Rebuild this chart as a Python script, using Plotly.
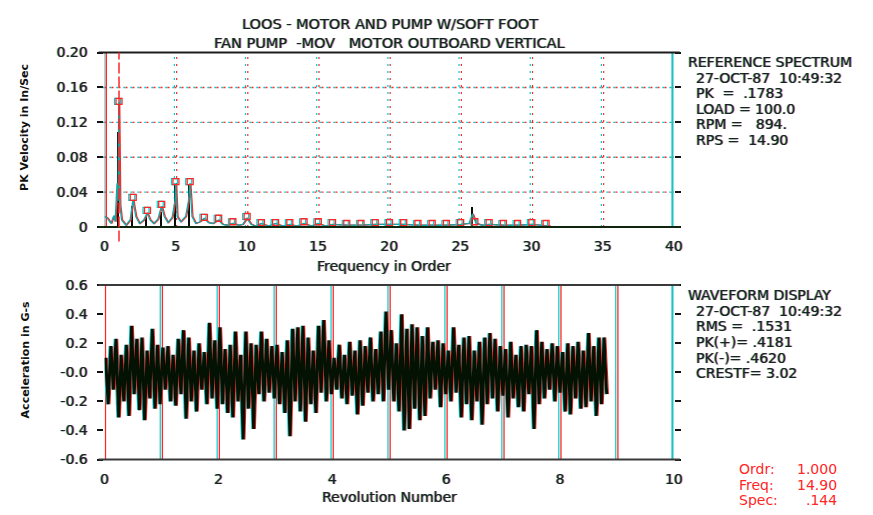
import numpy as np
import plotly.graph_objects as go

# ---------------- reference spectrum: PK velocity (in/sec) vs order ----------------
spec_order = [0.0, 0.2, 0.45, 0.65, 0.75, 0.88, 0.95, 1.0, 1.08, 1.2,
              1.5, 1.8, 2.0, 2.2, 2.45, 2.75, 3.0, 3.2, 3.45, 3.75,
              4.0, 4.2, 4.45, 4.75, 4.95, 5.0, 5.1, 5.35, 5.7, 5.9,
              6.0, 6.15, 6.4, 6.7, 7.0, 7.3, 7.6, 8.0, 8.3, 8.6,
              9.0, 9.4, 9.7, 10.0, 10.3, 10.6, 11.0, 11.5, 12.0, 12.5,
              13.0, 13.5, 14.0, 14.5, 15.0, 15.5, 16.0, 17.0, 18.0, 19.0,
              20.0, 21.0, 22.0, 23.0, 24.0, 25.0, 25.6, 25.85, 26.1, 26.5,
              27.0, 28.0, 29.0, 30.0, 31.0, 31.3]
spec_vel = [0.012, 0.010, 0.004, 0.013, 0.006, 0.050, 0.030, 0.144, 0.025, 0.008,
            0.002, 0.008, 0.031, 0.012, 0.004, 0.008, 0.016, 0.008, 0.004, 0.009,
            0.024, 0.012, 0.005, 0.011, 0.030, 0.050, 0.012, 0.006, 0.012, 0.030,
            0.050, 0.012, 0.004, 0.006, 0.010, 0.005, 0.004, 0.008, 0.003, 0.002,
            0.004, 0.002, 0.003, 0.010, 0.003, 0.001, 0.004, 0.001, 0.004, 0.001,
            0.003, 0.001, 0.004, 0.001, 0.004, 0.001, 0.003, 0.002, 0.002, 0.003,
            0.003, 0.003, 0.002, 0.002, 0.002, 0.003, 0.004, 0.015, 0.004, 0.002,
            0.003, 0.002, 0.002, 0.003, 0.002, 0.001]

# overlay spectrum peaks (drawn as dark stems)
peak_order = [1, 2, 3, 4, 5, 6, 25.85]
peak_vel = [0.109, 0.024, 0.012, 0.018, 0.050, 0.049, 0.023]

# cursor reading
cursor_order = 1.0
cursor_freq = 14.90
cursor_spec = 0.144

# harmonic markers, orders 1..31
harm_order = list(range(1, 32))
harm_vel = [cursor_spec, 0.034, 0.019, 0.026, 0.052, 0.052, 0.011, 0.010, 0.006, 0.012,
            0.005, 0.005, 0.005, 0.006, 0.006, 0.005, 0.004, 0.004, 0.005, 0.005,
            0.005, 0.004, 0.004, 0.004, 0.005, 0.006, 0.005, 0.004, 0.004, 0.005,
            0.004]

order_ticks = [0, 5, 10, 15, 20, 25, 30, 35, 40]
vel_ticks = [0, 0.04, 0.08, 0.12, 0.16, 0.20]
vel_ticktext = ["0", "0.04", "0.08", "0.12", "0.16", "0.20"]
grid_orders = [5, 10, 15, 20, 25, 30, 35]
grid_vel = [0.04, 0.08, 0.12, 0.16]

# ---------------- waveform: acceleration (G-s) vs revolution ----------------
# successive positive / negative excursions, about eleven per revolution
accel_peaks = [
    0.10, 0.18, 0.23, 0.12, 0.19, 0.32, 0.23, 0.24, 0.15, 0.30, 0.19,
    0.17, 0.18, 0.12, 0.23, 0.29, 0.24, 0.15, 0.20, 0.14, 0.34, 0.22,
    0.31, 0.16, 0.19, 0.28, 0.12, 0.28, 0.20, 0.19, 0.28, 0.23, 0.18,
    0.19, 0.14, 0.22, 0.30, 0.31, 0.32, 0.24, 0.15, 0.32, 0.36, 0.22,
    0.10, 0.19, 0.12, 0.21, 0.15, 0.22, 0.18, 0.24, 0.16, 0.28, 0.418,
    0.29, 0.20, 0.40, 0.30, 0.33, 0.31, 0.25, 0.31, 0.21, 0.22, 0.20,
    0.15, 0.31, 0.19, 0.24, 0.25, 0.15, 0.21, 0.24, 0.27, 0.23, 0.18,
    0.16, 0.21, 0.12, 0.18, 0.19, 0.18, 0.29, 0.21, 0.16, 0.20, 0.18,
    0.14, 0.20, 0.18, 0.21, 0.15, 0.27, 0.18, 0.24, 0.24]
accel_troughs = [
    -0.22, -0.12, -0.31, -0.20, -0.30, -0.15, -0.26, -0.33, -0.18, -0.25, -0.22,
    -0.12, -0.20, -0.23, -0.15, -0.32, -0.20, -0.27, -0.12, -0.22, -0.18, -0.25,
    -0.22, -0.28, -0.31, -0.20, -0.462, -0.25, -0.39, -0.15, -0.20, -0.14, -0.18,
    -0.22, -0.28, -0.44, -0.20, -0.27, -0.34, -0.22, -0.28, -0.14, -0.20, -0.15,
    -0.12, -0.18, -0.22, -0.16, -0.29, -0.23, -0.14, -0.20, -0.15, -0.20, -0.12,
    -0.20, -0.27, -0.40, -0.39, -0.25, -0.33, -0.30, -0.18, -0.12, -0.24, -0.15,
    -0.20, -0.14, -0.31, -0.22, -0.33, -0.20, -0.36, -0.22, -0.18, -0.27, -0.16,
    -0.31, -0.18, -0.24, -0.27, -0.15, -0.39, -0.22, -0.18, -0.12, -0.20, -0.14,
    -0.27, -0.29, -0.18, -0.25, -0.24, -0.20, -0.30, -0.22, -0.15]
wave_start_rev = 0.02
wave_end_rev = 8.82

rev_ticks = [0, 2, 4, 6, 8, 10]
rev_lines = [0, 1, 2, 3, 4, 5, 6, 7, 8, 9]
acc_ticks = [-0.6, -0.4, -0.2, 0.0, 0.2, 0.4, 0.6]
acc_ticktext = ["-0.6", "-0.4", "-0.2", "-0.0", "0.2", "0.4", "0.6"]

ref_info = ["REFERENCE SPECTRUM", "27-OCT-87\u00a0\u00a010:49:32", "PK\u00a0\u00a0=\u00a0\u00a0.1783",
            "LOAD = 100.0", "RPM =\u00a0\u00a0\u00a0894.", "RPS =\u00a0\u00a014.90"]
wave_info = ["WAVEFORM DISPLAY", "27-OCT-87\u00a0\u00a010:49:32", "RMS =\u00a0\u00a0.1531",
             "PK(+)= .4181", "PK(-)= .4620", "CRESTF= 3.02"]

# ---------------- page geometry ----------------
W, H = 873, 515
PLOT_L, PLOT_R = 102, 680
TOP_T, TOP_B = 46, 226
BOT_T, BOT_B = 286, 466
PLOT_W = PLOT_R - PLOT_L
ORD_PX = 40 / PLOT_W      # orders per pixel
REV_PX = 10 / PLOT_W      # revolutions per pixel


def px(x):
    return x / W


def py(y):
    return 1 - y / H


INK = "#142422"
CYAN = "#00cccc"
RED = "#ff2626"
FONT = "DejaVu Sans"
FRINGE = "-1px 0px 0px rgba(0,200,200,0.6), 1px 0px 0px rgba(255,40,40,0.6)"

fig = go.Figure()

# spectrum: red ghost then teal trace
so = np.array(spec_order)
fig.add_trace(go.Scatter(x=so + 1.0 * ORD_PX, y=spec_vel, mode="lines",
                         line=dict(color=RED, width=1.3), xaxis="x", yaxis="y",
                         hoverinfo="skip", showlegend=False))
fig.add_trace(go.Scatter(x=so, y=spec_vel, mode="lines",
                         line=dict(color="#12a6a6", width=1.3), xaxis="x", yaxis="y",
                         showlegend=False))
fig.add_trace(go.Bar(x=peak_order, y=peak_vel, width=0.11, marker=dict(color="#050f05", line=dict(width=0)),
                     xaxis="x", yaxis="y", showlegend=False))

# harmonic markers
ho = np.array(harm_order, dtype=float)
fig.add_trace(go.Scatter(x=ho - 1.2 * ORD_PX, y=harm_vel, mode="markers",
                         marker=dict(symbol="square-open", size=6, color=CYAN, line=dict(width=1.2)),
                         xaxis="x", yaxis="y", hoverinfo="skip", showlegend=False))
fig.add_trace(go.Scatter(x=ho + 0.3 * ORD_PX, y=harm_vel, mode="markers",
                         marker=dict(symbol="square-open", size=6, color=RED, line=dict(width=1.3)),
                         xaxis="x", yaxis="y", showlegend=False))

# waveform: alternate excursions in time order
wave = np.empty(len(accel_peaks) + len(accel_troughs))
wave[0::2] = accel_peaks
wave[1::2] = accel_troughs
rev = np.linspace(wave_start_rev, wave_end_rev, len(wave))
fig.add_trace(go.Scatter(x=rev - 1.8 * REV_PX, y=wave, mode="lines", line=dict(color=CYAN, width=1.1),
                         xaxis="x2", yaxis="y2", hoverinfo="skip", showlegend=False))
fig.add_trace(go.Scatter(x=rev + 1.8 * REV_PX, y=wave, mode="lines", line=dict(color=RED, width=1.1),
                         xaxis="x2", yaxis="y2", hoverinfo="skip", showlegend=False))
fig.add_trace(go.Scatter(x=rev, y=wave, mode="lines", line=dict(color="#031203", width=2.9),
                         xaxis="x2", yaxis="y2", showlegend=False))

# ---------------- frame, grid and cursor ----------------
shapes = []


def vline(xref, yref, x, y0, y1, color, width, dash="solid", layer="below"):
    shapes.append(dict(type="line", xref=xref, yref=yref, x0=x, x1=x, y0=y0, y1=y1,
                       line=dict(color=color, width=width, dash=dash), layer=layer))


def hline(xref, yref, y, x0, x1, color, width, dash="solid", layer="below"):
    shapes.append(dict(type="line", xref=xref, yref=yref, x0=x0, x1=x1, y0=y, y1=y,
                       line=dict(color=color, width=width, dash=dash), layer=layer))


DOT = "2px,5px"
for g in grid_orders:
    vline("x", "y domain", g - 1.3 * ORD_PX, 0, 1, CYAN, 1.2, DOT)
    vline("x", "y domain", g + 1.0 * ORD_PX, 0, 1, RED, 1.2, DOT)
for g in grid_vel:
    hline("x domain", "y", g, -2.2 / PLOT_W, 1, CYAN, 1.4, DOT)
    hline("x domain", "y", g, 0, 1, RED, 1.4, DOT)

# side rails of the spectrum pane
vline("x", "y domain", 0 - 0.3 * ORD_PX, 0, 1, CYAN, 1.5)
vline("x", "y domain", 0 + 1.8 * ORD_PX, 0, 1, RED, 1.5)
vline("x", "y domain", 40 - 1.5 * ORD_PX, 0, 1, CYAN, 2)
vline("x", "y domain", 40 + 1.0 * ORD_PX, 0, 1, RED, 2)
# top and base lines
ext = 6 / PLOT_W
hline("x domain", "y domain", 1, -ext, 1 + ext, "#1c1c1c", 2, layer="above")
hline("x domain", "y domain", 0, -ext, 1 + ext, "#0e260e", 2, layer="above")

# cursor
vline("x", "y domain", cursor_order + 0.3 * ORD_PX, -15 / (TOP_B - TOP_T), 1, RED, 1.5, "11px,3px", layer="above")

# revolution lines in the waveform pane
for r in rev_lines:
    vline("x2", "y2 domain", r - 1.2 * REV_PX, 0, 1, CYAN, 1.2)
    vline("x2", "y2 domain", r + 1.0 * REV_PX, 0, 1, RED, 1.3)
vline("x2", "y2 domain", 10 - 1.5 * REV_PX, 0, 1, CYAN, 2)
vline("x2", "y2 domain", 10 + 1.0 * REV_PX, 0, 1, RED, 2)
hline("x2 domain", "y2 domain", 1, -ext, 1 + ext, "#3a3a3a", 2, layer="above")
hline("x2 domain", "y2 domain", 0, -ext, 1 + ext, "#3a3a3a", 2, layer="above")

# ---------------- text ----------------
annotations = []


def label(x, y, text, xanchor="left", color=INK, size=14, weight="normal", angle=0, shadow=FRINGE):
    annotations.append(dict(x=px(x), y=py(y), xref="paper", yref="paper", text=text, showarrow=False,
                            xanchor=xanchor, yanchor="middle", textangle=angle,
                            font=dict(family=FONT, size=size, color=color, weight=weight, shadow=shadow)))


label(392, 17, "LOOS - MOTOR AND PUMP W/SOFT FOOT", "center", size=14.5)
label(391, 36, "FAN PUMP\u00a0\u00a0-MOV\u00a0\u00a0\u00a0MOTOR OUTBOARD VERTICAL", "center", size=14.5)
label(386, 266, "Frequency in Order", "center")
label(391, 505, "Revolution Number", "center")
label(20, 123, "PK Velocity in In/Sec", "center", color="#111111", size=11, weight="bold", angle=-90,
      shadow="none")
label(22, 363, "Acceleration in G-s", "center", color="#111111", size=11, weight="bold", angle=-90,
      shadow="none")

for i, t in enumerate(ref_info):
    label(692 if i == 0 else 700, 56 + 16 * i, t)
for i, t in enumerate(wave_info):
    label(692 if i == 0 else 700, 296 + 16.2 * i, t)

cursor_rows = [("Ordr:", f"{cursor_order:.3f}"),
               ("Freq:", f"{cursor_freq:.2f}"),
               ("Spec:", f"{cursor_spec:.3f}".lstrip("0"))]
for i, (k, v) in enumerate(cursor_rows):
    label(744, 476 + 16 * i, k, "left", color=RED, shadow="none")
    label(848, 476 + 16 * i, v, "right", color=RED, shadow="none")

tickfont = dict(family=FONT, size=14, color=INK, shadow=FRINGE)
common = dict(showgrid=False, zeroline=False, showline=False, tickfont=tickfont)

fig.update_layout(
    width=W, height=H, margin=dict(l=0, r=0, t=0, b=0),
    paper_bgcolor="white", plot_bgcolor="white",
    showlegend=False, bargap=0,
    xaxis=dict(domain=[px(PLOT_L), px(PLOT_R)], range=[0, 40], anchor="y",
               tickmode="array", tickvals=order_ticks, ticks="", ticklabelstandoff=9, **common),
    yaxis=dict(domain=[py(TOP_B), py(TOP_T)], range=[0, 0.2], anchor="x",
               tickmode="array", tickvals=vel_ticks, ticktext=vel_ticktext,
               ticks="outside", ticklen=6, tickwidth=1.5, tickcolor="#111111", mirror="ticks",
               ticklabelstandoff=7, **common),
    xaxis2=dict(domain=[px(PLOT_L), px(PLOT_R)], range=[0, 10], anchor="y2",
                tickmode="array", tickvals=rev_ticks, ticks="", ticklabelstandoff=9, **common),
    yaxis2=dict(domain=[py(BOT_B), py(BOT_T)], range=[-0.6, 0.6], anchor="x2",
                tickmode="array", tickvals=acc_ticks, ticktext=acc_ticktext,
                ticks="outside", ticklen=6, tickwidth=1.5, tickcolor="#111111", mirror="ticks",
                ticklabelstandoff=7, **common),
    shapes=shapes, annotations=annotations,
)

fig.write_html("out.html")
